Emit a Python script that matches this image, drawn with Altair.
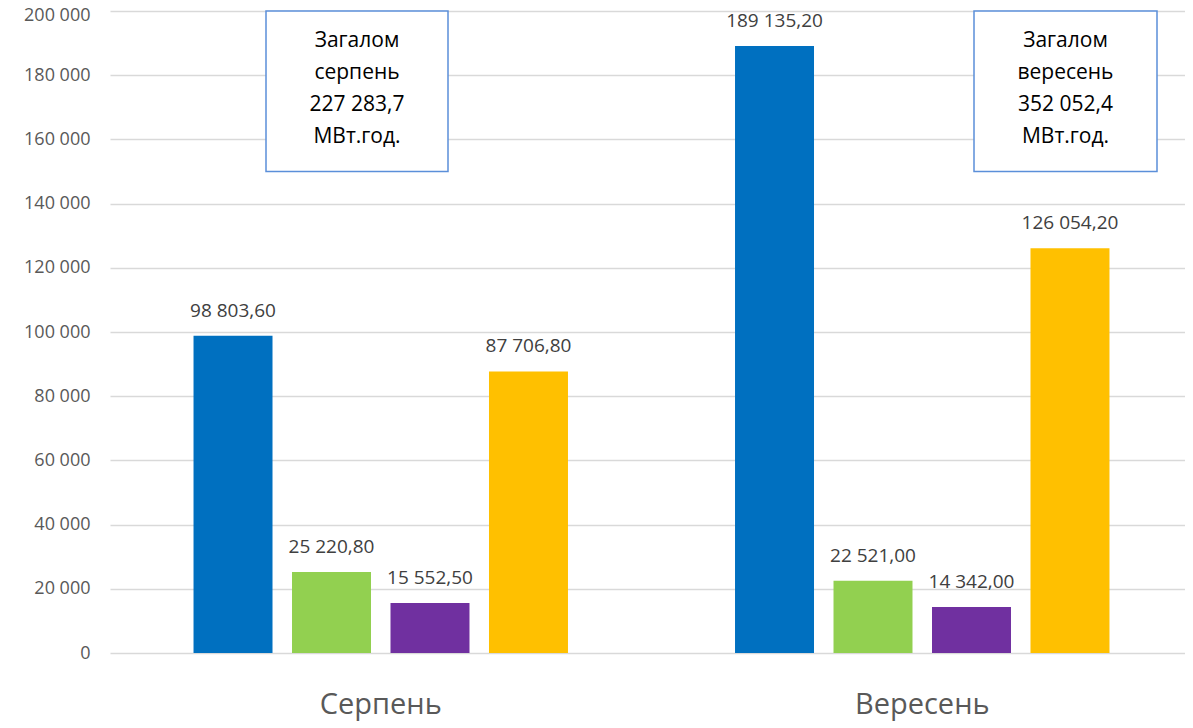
import altair as alt
import pandas as pd

months = ["Серпень", "Вересень"]
series = ["Серія 1", "Серія 2", "Серія 3", "Серія 4"]
serpen_values = [98803.6, 25220.8, 15552.5, 87706.8]
veresen_values = [189135.2, 22521.0, 14342.0, 126054.2]
colors = ["#0070c0", "#92d050", "#7030a0", "#ffc000"]
y_ticks = [0, 20000, 40000, 60000, 80000, 100000, 120000, 140000, 160000, 180000, 200000]
total_texts = ["Загалом\nсерпень\n\u00a0227 283,7\nМВт.год.", "Загалом\nвересень\n352 052,4\nМВт.год."]


def fmt(v):
    return f"{v:,.2f}".replace(",", " ").replace(".", ",")


rows = []
for m, vals in zip(months, [serpen_values, veresen_values]):
    for s, v in zip(series, vals):
        rows.append({"month": m, "series": s, "value": v, "label": fmt(v)})
df = pd.DataFrame(rows)

FONT = "Open Sans"

x_enc = alt.X(
    "month:N",
    sort=months,
    scale=alt.Scale(range=[0, 1083], paddingInner=0, paddingOuter=0),
    axis=alt.Axis(
        title=None, labelAngle=0, labelFontSize=29, labelColor="#595959",
        labelFont=FONT, labelPadding=37, domain=False, ticks=False, grid=False,
    ),
)
xo_enc = alt.XOffset("series:N", sort=series,
                     scale=alt.Scale(paddingInner=0.198, paddingOuter=0.848))
y_enc = alt.Y(
    "value:Q",
    scale=alt.Scale(domain=[0, 200000], nice=False),
    axis=alt.Axis(
        title=None, values=y_ticks,
        labelExpr="replace(format(datum.value, ','), ',', ' ')",
        labelFontSize=18, labelColor="#595959", labelFont=FONT, labelPadding=20,
        labelOffset={"condition": {"test": "datum.value == 200000", "value": 4}, "value": 0},
        ticks=False, domain=False, gridColor="#d9d9d9", gridWidth=1.5,
    ),
)

base = alt.Chart(df)
bars = base.mark_bar().encode(
    x=x_enc, xOffset=xo_enc, y=y_enc,
    color=alt.Color("series:N", scale=alt.Scale(domain=series, range=colors), legend=None),
)
labels = base.mark_text(
    dy=-19, baseline="alphabetic", fontSize=19, color="#404040", font=FONT
).encode(x=x_enc, xOffset=xo_enc, y=y_enc, text="label:N")

layers = [bars, labels]
box_x = [(156, 338), (864, 1047)]
for (x0, x1), t in zip(box_x, total_texts):
    box = alt.Chart(pd.DataFrame({"t": [t]})).mark_rect(
        fill="white", stroke="#5b8fd9", strokeWidth=1.5
    ).encode(
        x=alt.value(x0), x2=alt.value(x1),
        y=alt.Y(datum=150000), y2=alt.Y2(datum=200000),
    )
    txt = alt.Chart(pd.DataFrame({"t": [t]})).mark_text(
        lineBreak="\n", lineHeight=32, fontSize=21, font=FONT, color="#000000",
        align="center", baseline="alphabetic", dy=36,
    ).encode(
        x=alt.value((x0 + x1) / 2), y=alt.Y(datum=200000), text="t:N",
    )
    layers += [box, txt]

chart = alt.layer(*layers).properties(
    width=1075, height=642, autosize="none",
    padding={"left": 102, "top": 3, "right": 0, "bottom": 70},
).configure_view(stroke=None)

chart.save("out.html", embed_options={"renderer": "svg", "actions": False})
